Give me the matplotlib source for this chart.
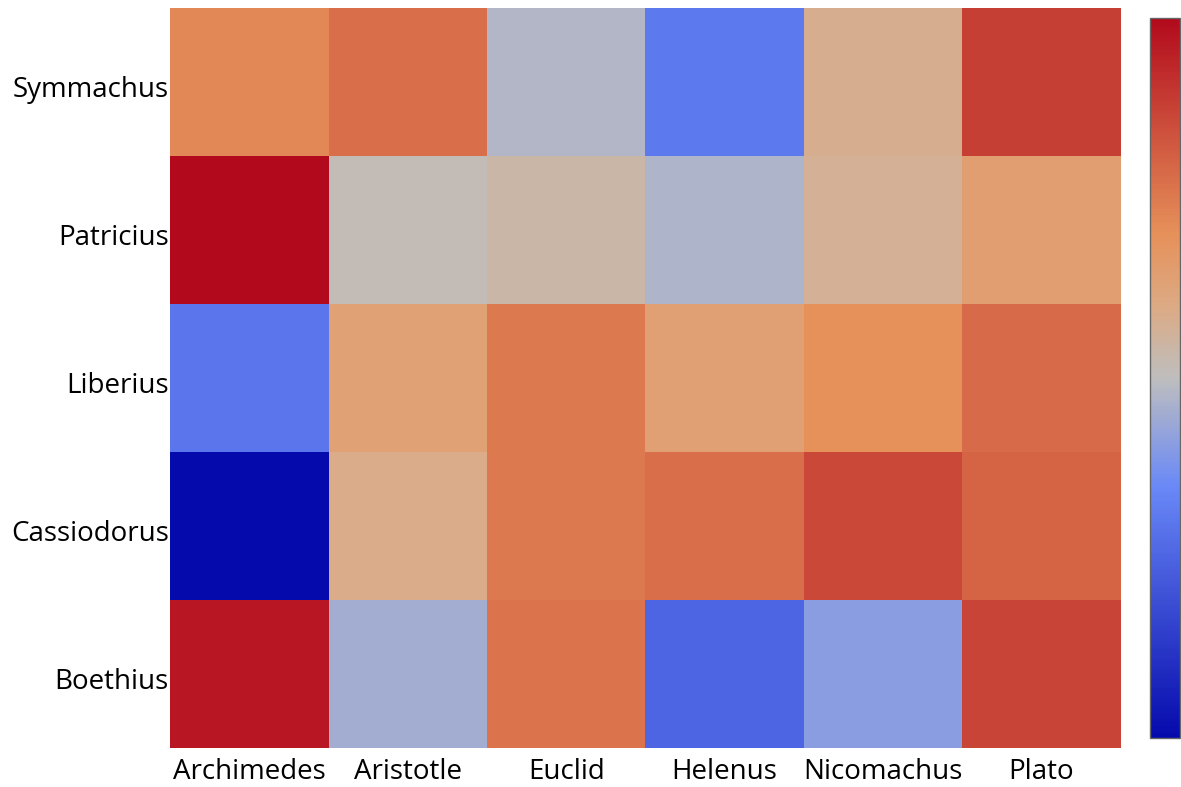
import numpy as np
import matplotlib.pyplot as plt
import matplotlib.transforms as mtransforms
from matplotlib.colors import LinearSegmentedColormap

plt.rcParams['font.family'] = ['Open Sans', 'DejaVu Sans']

authors = ['Archimedes', 'Aristotle', 'Euclid', 'Helenus', 'Nicomachus', 'Plato']
# rows from bottom to top
readers = ['Boethius', 'Cassiodorus', 'Liberius', 'Patricius', 'Symmachus']

boethius = [0.97, 0.45, 0.765, 0.25, 0.41, 0.87]
cassiodorus = [0.0, 0.59, 0.75, 0.775, 0.86, 0.80]
liberius = [0.30, 0.635, 0.75, 0.64, 0.70, 0.785]
patricius = [1.0, 0.515, 0.54, 0.47, 0.57, 0.645]
symmachus = [0.72, 0.775, 0.48, 0.305, 0.58, 0.88]

z = np.array([boethius, cassiodorus, liberius, patricius, symmachus])

stops = [(0.0, (5, 10, 172)), (0.35, (106, 137, 247)), (0.5, (190, 190, 190)),
         (0.6, (220, 170, 132)), (0.7, (230, 145, 90)), (1.0, (178, 10, 28))]
cmap = LinearSegmentedColormap.from_list(
    'rdbu_plotly', [(p, tuple(c / 255 for c in rgb)) for p, rgb in stops])

fig = plt.figure(figsize=(11.81, 7.87), dpi=100)
ax = fig.add_axes([0.144, 0.0496, 0.805, 0.9404])
mesh = ax.pcolormesh(z, cmap=cmap, vmin=0, vmax=1)

ax.set_xticks(np.arange(len(authors)) + 0.5)
ax.set_xticklabels(authors)
ax.set_yticks(np.arange(len(readers)) + 0.5)
ax.set_yticklabels(readers, va='center_baseline')
ax.tick_params(length=0, labelsize=20)
ax.tick_params(axis='y', pad=1)
ax.tick_params(axis='x', pad=7)

# nudge y labels down a little, like the original
shift = mtransforms.ScaledTranslation(0, -5 / 100, fig.dpi_scale_trans)
for lbl in ax.get_yticklabels():
    lbl.set_transform(lbl.get_transform() + shift)

for s in ax.spines.values():
    s.set_visible(False)

cax = fig.add_axes([0.974, 0.062, 0.025, 0.915])
cb = fig.colorbar(mesh, cax=cax)
cb.set_ticks([])
cb.outline.set_edgecolor('#666666')
cb.outline.set_linewidth(1)

fig.savefig('out.png')
